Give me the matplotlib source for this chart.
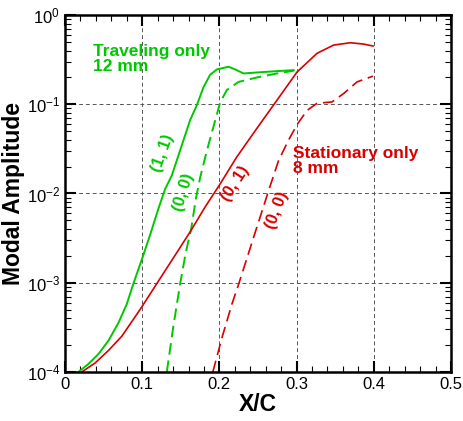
import numpy as np
import matplotlib
matplotlib.use("Agg")
import matplotlib.pyplot as plt
from matplotlib.ticker import MultipleLocator, FuncFormatter, LogLocator, NullFormatter

plt.rcParams['font.family'] = ['Liberation Sans', 'DejaVu Sans']
plt.rcParams['mathtext.fontset'] = 'custom'
plt.rcParams['mathtext.rm'] = 'Liberation Sans'
plt.rcParams['mathtext.it'] = 'Liberation Sans:italic'
plt.rcParams['mathtext.bf'] = 'Liberation Sans:bold'
plt.rcParams['lines.solid_joinstyle'] = 'round'
plt.rcParams['lines.dash_joinstyle'] = 'round'

# traveling mode (1,1), 12 mm  (amplitudes as log10)
trav11_x = [0.0173, 0.0303, 0.0432, 0.0562, 0.0692, 0.080, 0.0886, 0.1003, 0.110,
            0.121, 0.1297, 0.1383, 0.149, 0.162, 0.1708, 0.1794, 0.188, 0.1967,
            0.2118, 0.2205, 0.2313, 0.2486, 0.2746, 0.2962]
trav11_logy = [-4.0, -3.91, -3.80, -3.65, -3.45, -3.24, -3.01, -2.72, -2.47,
               -2.17, -1.95, -1.80, -1.52, -1.18, -1.01, -0.81, -0.67, -0.61,
               -0.58, -0.61, -0.655, -0.644, -0.629, -0.618]

# traveling mean flow distortion (0,0)
trav00_x = [0.1319, 0.1405, 0.1492, 0.1565, 0.1634, 0.1695, 0.1751, 0.1838,
            0.1946, 0.2010, 0.2097, 0.2248, 0.2486, 0.2746, 0.2962]
trav00_logy = [-4.0, -3.48, -3.01, -2.66, -2.40, -2.06, -1.82, -1.52,
               -1.18, -0.98, -0.84, -0.75, -0.70, -0.655, -0.625]

# stationary mode (0,1), 8 mm
stat01_x = [0.0216, 0.0389, 0.0562, 0.0735, 0.0886, 0.1003, 0.1189, 0.1383, 0.1621,
            0.1816, 0.1997, 0.2226, 0.2486, 0.2746, 0.3005, 0.3264, 0.348, 0.3696,
            0.3869, 0.399]
stat01_logy = [-4.0, -3.90, -3.76, -3.60, -3.41, -3.26, -3.01, -2.75, -2.43,
               -2.15, -1.91, -1.59, -1.27, -0.955, -0.64, -0.43, -0.337, -0.311,
               -0.326, -0.348]

# stationary mean flow distortion (0,0)
stat00_x = [0.1915, 0.2032, 0.2162, 0.2248, 0.244, 0.2637, 0.2767, 0.2897, 0.3005,
            0.3135, 0.3264, 0.3459, 0.3610, 0.3783, 0.399]
stat00_logy = [-4.0, -3.62, -3.24, -3.02, -2.50, -1.97, -1.63, -1.40, -1.23,
               -1.07, -0.99, -0.974, -0.88, -0.75, -0.685]

green = '#00c800'
red = '#d80000'

fig = plt.figure(figsize=(4.63, 4.21), dpi=100)
ax = fig.add_axes([0.1404, 0.1164, 0.8336, 0.848])

ax.plot(trav11_x, 10 ** np.array(trav11_logy), color=green, lw=1.4)
ax.plot(trav00_x, 10 ** np.array(trav00_logy), color=green, lw=1.4, dashes=(6, 3))
ax.plot(stat01_x, 10 ** np.array(stat01_logy), color=red, lw=1.2)
ax.plot(stat00_x, 10 ** np.array(stat00_logy), color=red, lw=1.2, dashes=(7, 3.5))

ax.set_yscale('log')
ax.set_xlim(0, 0.5)
ax.set_ylim(1e-4, 1)

ax.xaxis.set_major_locator(MultipleLocator(0.1))
ax.xaxis.set_minor_locator(MultipleLocator(0.02))
ax.xaxis.set_major_formatter(FuncFormatter(lambda v, p: '%g' % round(v, 3)))
ax.yaxis.set_major_locator(LogLocator(base=10, numticks=10))
ax.yaxis.set_minor_locator(LogLocator(base=10, subs=np.arange(2, 10), numticks=10))
ax.yaxis.set_minor_formatter(NullFormatter())
ax.yaxis.set_major_formatter(FuncFormatter(lambda v, p: r'$10^{%d}$' % round(np.log10(v))))

ax.tick_params(which='both', direction='in', top=True, right=True, labelsize=12)
ax.tick_params(which='major', length=8, width=1.5)
ax.tick_params(which='minor', length=4, width=0.8)
for s in ax.spines.values():
    s.set_linewidth(1.8)

ax.grid(True, which='major', color='#555555', lw=0.7, ls=(0, (4, 3)))

ax.set_xlabel('X/C', fontsize=16.5, fontweight='bold', labelpad=1)
ax.set_ylabel('Modal Amplitude', fontsize=16.5, fontweight='bold', labelpad=1)

ax.text(0.0367, 10 ** -0.33, 'Traveling only\n12 mm', color=green, fontsize=12.5,
        fontweight='bold', ha='left', va='top', linespacing=1.0)
ax.text(0.296, 10 ** -1.47, 'Stationary only\n8 mm', color=red, fontsize=12.5,
        fontweight='bold', ha='left', va='top', linespacing=1.0)

ax.text(0.127, 10 ** -1.55, '(1, 1)', color=green, fontsize=12, fontweight='bold',
        rotation=70, ha='center', va='center')
ax.text(0.153, 10 ** -1.99, '(0, 0)', color=green, fontsize=12, fontweight='bold',
        rotation=73, ha='center', va='center')
ax.text(0.2205, 10 ** -1.89, '(0, 1)', color=red, fontsize=12, fontweight='bold',
        rotation=57, ha='center', va='center')
ax.text(0.274, 10 ** -2.19, '(0, 0)', color=red, fontsize=12, fontweight='bold',
        rotation=69, ha='center', va='center')

fig.savefig('out.png', dpi=100)
